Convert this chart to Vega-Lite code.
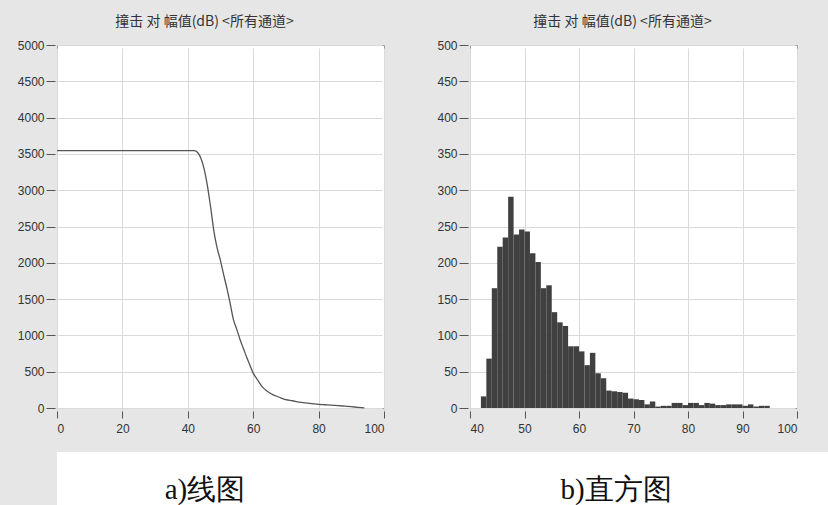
{
  "$schema": "https://vega.github.io/schema/vega-lite/v6.json",
  "background": "#e6e6e6",
  "padding": {"left": 0, "top": 14, "right": 0, "bottom": 0},
  "spacing": 17,
  "config": {
    "view": {"fill": "white", "stroke": "#9a9a9a"},
    "axis": {
      "labelFont": "Liberation Sans",
      "labelFontSize": 12,
      "labelColor": "#333333",
      "tickColor": "#555555",
      "domain": false,
      "gridColor": "#dadada",
      "title": null
    },
    "axisX": {"offset": 3, "tickSize": 7, "labelPadding": 5},
    "axisY": {"offset": 2, "tickSize": 9, "labelPadding": 2},
    "title": {"font": "Noto Sans CJK SC", "fontSize": 14, "fontWeight": "normal", "color": "#333333", "offset": 10, "anchor": "middle", "frame": "group"}
  },
  "vconcat": [
    {
      "hconcat": [
        {
          "title": {"text": "撞击 对 幅值(dB) <所有通道>", "dx": -16},
          "width": 327,
          "height": 363,
          "data": {"values": [
            {"db": 0, "hits": 3545}, {"db": 42, "hits": 3545}, {"db": 43, "hits": 3520}, {"db": 44, "hits": 3440},
            {"db": 45, "hits": 3290}, {"db": 46, "hits": 3060}, {"db": 47, "hits": 2760}, {"db": 48, "hits": 2430},
            {"db": 49, "hits": 2200}, {"db": 50, "hits": 2030}, {"db": 51, "hits": 1830}, {"db": 52, "hits": 1640},
            {"db": 53, "hits": 1430}, {"db": 54, "hits": 1210}, {"db": 55, "hits": 1080}, {"db": 56, "hits": 940},
            {"db": 57, "hits": 820}, {"db": 58, "hits": 700}, {"db": 59, "hits": 590}, {"db": 60, "hits": 480},
            {"db": 61, "hits": 410}, {"db": 62, "hits": 340}, {"db": 63, "hits": 280}, {"db": 64, "hits": 240},
            {"db": 65, "hits": 210}, {"db": 66, "hits": 185}, {"db": 67, "hits": 165}, {"db": 68, "hits": 148},
            {"db": 69, "hits": 130}, {"db": 70, "hits": 115}, {"db": 72, "hits": 100}, {"db": 74, "hits": 82},
            {"db": 76, "hits": 70}, {"db": 78, "hits": 60}, {"db": 80, "hits": 50}, {"db": 82, "hits": 45},
            {"db": 84, "hits": 40}, {"db": 86, "hits": 32}, {"db": 88, "hits": 25}, {"db": 90, "hits": 18},
            {"db": 92, "hits": 10}, {"db": 94, "hits": 3}
          ]},
          "mark": {"type": "line", "color": "#555555", "strokeWidth": 1.3, "interpolate": "monotone"},
          "encoding": {
            "x": {"field": "db", "type": "quantitative", "scale": {"domain": [0, 100], "nice": false},
                  "axis": {"values": [0, 20, 40, 60, 80, 100], "format": "d"}},
            "y": {"field": "hits", "type": "quantitative", "scale": {"domain": [0, 5000], "nice": false},
                  "axis": {"values": [0, 500, 1000, 1500, 2000, 2500, 3000, 3500, 4000, 4500, 5000], "format": "d", "minExtent": 54, "maxExtent": 54}}
          }
        },
        {
          "title": {"text": "撞击 对 幅值(dB) <所有通道>", "dx": -11},
          "width": 327,
          "height": 363,
          "data": {"values": [
            {"lo": 42, "hi": 43, "count": 16}, {"lo": 43, "hi": 44, "count": 68}, {"lo": 44, "hi": 45, "count": 165},
            {"lo": 45, "hi": 46, "count": 222}, {"lo": 46, "hi": 47, "count": 235}, {"lo": 47, "hi": 48, "count": 291},
            {"lo": 48, "hi": 49, "count": 239}, {"lo": 49, "hi": 50, "count": 246}, {"lo": 50, "hi": 51, "count": 243},
            {"lo": 51, "hi": 52, "count": 213}, {"lo": 52, "hi": 53, "count": 201}, {"lo": 53, "hi": 54, "count": 165},
            {"lo": 54, "hi": 55, "count": 169}, {"lo": 55, "hi": 56, "count": 132}, {"lo": 56, "hi": 57, "count": 118},
            {"lo": 57, "hi": 58, "count": 113}, {"lo": 58, "hi": 59, "count": 85}, {"lo": 59, "hi": 60, "count": 85},
            {"lo": 60, "hi": 61, "count": 78}, {"lo": 61, "hi": 62, "count": 59}, {"lo": 62, "hi": 63, "count": 76},
            {"lo": 63, "hi": 64, "count": 48}, {"lo": 64, "hi": 65, "count": 41}, {"lo": 65, "hi": 66, "count": 24},
            {"lo": 66, "hi": 67, "count": 23}, {"lo": 67, "hi": 68, "count": 22}, {"lo": 68, "hi": 69, "count": 21},
            {"lo": 69, "hi": 70, "count": 13}, {"lo": 70, "hi": 71, "count": 12}, {"lo": 71, "hi": 72, "count": 11},
            {"lo": 72, "hi": 73, "count": 5}, {"lo": 73, "hi": 74, "count": 9}, {"lo": 74, "hi": 75, "count": 2},
            {"lo": 75, "hi": 76, "count": 3}, {"lo": 76, "hi": 77, "count": 3}, {"lo": 77, "hi": 78, "count": 7},
            {"lo": 78, "hi": 79, "count": 7}, {"lo": 79, "hi": 80, "count": 4}, {"lo": 80, "hi": 81, "count": 7},
            {"lo": 81, "hi": 82, "count": 7}, {"lo": 82, "hi": 83, "count": 4}, {"lo": 83, "hi": 84, "count": 7},
            {"lo": 84, "hi": 85, "count": 6}, {"lo": 85, "hi": 86, "count": 4}, {"lo": 86, "hi": 87, "count": 4},
            {"lo": 87, "hi": 88, "count": 5}, {"lo": 88, "hi": 89, "count": 5}, {"lo": 89, "hi": 90, "count": 5},
            {"lo": 90, "hi": 91, "count": 3}, {"lo": 91, "hi": 92, "count": 5}, {"lo": 92, "hi": 93, "count": 2},
            {"lo": 93, "hi": 94, "count": 3}, {"lo": 94, "hi": 95, "count": 3}
          ]},
          "mark": {"type": "rect", "color": "#404040"},
          "encoding": {
            "x": {"field": "lo", "type": "quantitative", "scale": {"domain": [40, 100], "nice": false},
                  "axis": {"values": [40, 50, 60, 70, 80, 90, 100], "format": "d"}},
            "x2": {"field": "hi"},
            "y": {"field": "count", "type": "quantitative", "scale": {"domain": [0, 500], "nice": false},
                  "axis": {"values": [0, 50, 100, 150, 200, 250, 300, 350, 400, 450, 500], "format": "d", "minExtent": 53, "maxExtent": 53}},
            "y2": {"datum": 0}
          }
        }
      ],
      "spacing": 29
    },
    {
      "width": 771,
      "height": 53,
      "view": {"fill": "white", "stroke": null},
      "data": {"values": [{"label": "a)线图"}, {"label": "b)直方图"}]},
      "mark": {"type": "text", "font": "Liberation Serif", "fontSize": 29, "color": "#111111", "baseline": "middle", "dy": 11},
      "encoding": {
        "x": {"field": "label", "type": "nominal", "axis": null, "sort": null, "scale": {"type": "point", "range": [148, 559], "padding": 0}},
        "text": {"field": "label"}
      }
    }
  ]
}
